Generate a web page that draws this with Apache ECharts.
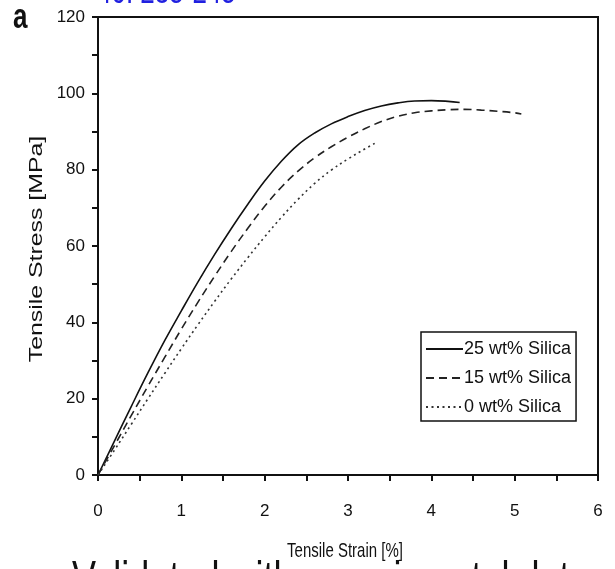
<!DOCTYPE html>
<html>
<head>
<meta charset="utf-8">
<script src="https://cdn.jsdelivr.net/npm/echarts@6/dist/echarts.min.js"></script>
<style>html,body{margin:0;padding:0;background:#fff;}#c{width:615px;height:569px;}</style>
</head>
<body>
<div id="c"></div>
<script>
const xTicks = [0, 1, 2, 3, 4, 5, 6];
const yTicks = [0, 20, 40, 60, 80, 100, 120];

const strain25 = [0, 0.2, 0.4, 0.6, 0.8, 1.0, 1.2, 1.4, 1.6, 1.8, 2.0, 2.2, 2.4, 2.6, 2.8, 3.0, 3.2, 3.4, 3.6, 3.8, 4.0, 4.2, 4.34];
const stress25 = [0, 9.0, 18.0, 26.8, 35.2, 43.0, 50.6, 57.8, 64.6, 71.0, 77.0, 82.2, 86.5, 89.6, 92.0, 93.9, 95.5, 96.7, 97.5, 98.0, 98.1, 97.9, 97.6];

const strain15 = [0, 0.2, 0.4, 0.6, 0.8, 1.0, 1.2, 1.4, 1.6, 1.8, 2.0, 2.2, 2.4, 2.6, 2.8, 3.0, 3.2, 3.4, 3.6, 3.8, 4.0, 4.2, 4.4, 4.6, 4.8, 5.0, 5.08];
const stress15 = [0, 7.8, 15.6, 23.3, 30.8, 38.2, 45.3, 52.1, 58.6, 64.7, 70.4, 75.4, 79.6, 83.1, 86.0, 88.5, 90.7, 92.6, 94.0, 94.9, 95.4, 95.7, 95.8, 95.6, 95.3, 94.9, 94.6];

const strain0 = [0, 0.2, 0.4, 0.6, 0.8, 1.0, 1.2, 1.4, 1.6, 1.8, 2.0, 2.2, 2.4, 2.6, 2.8, 3.0, 3.2, 3.32];
const stress0 = [0, 6.6, 13.3, 20.0, 26.6, 33.1, 39.4, 45.5, 51.4, 57.0, 62.4, 67.5, 72.2, 76.4, 79.9, 82.8, 85.4, 86.9];

const names = ['25 wt% Silica', '15 wt% Silica', '0 wt% Silica'];

function pairs(xs, ys) { return xs.map((x, i) => [x, ys[i]]); }

const sans = 'Liberation Sans, Arial, sans-serif';
const SY = 1.38; // vertical stretch of the original figure
const chart = echarts.init(document.getElementById('c'), null, {renderer: 'canvas'});
chart.setOption({
  backgroundColor: '#fff',
  animation: false,
  grid: {left: 98, right: 17, top: 17, bottom: 94, show: true, borderColor: '#111', borderWidth: 2, backgroundColor: 'transparent'},
  legend: {
    left: 421, top: 332, orient: 'vertical',
    data: names,
    itemWidth: 37, itemHeight: 12, itemGap: 11,
    padding: [8, 5, 5, 4],
    borderColor: '#111', borderWidth: 1.5, backgroundColor: '#fff',
    itemStyle: {opacity: 0},
    textStyle: {fontSize: 18, color: '#111', fontFamily: sans, padding: [0, 0, 0, -4]}
  },
  xAxis: {
    type: 'value', min: 0, max: 6, interval: 0.5,
    axisLine: {show: true, lineStyle: {color: '#111', width: 2}},
    axisTick: {show: true, length: 6, lineStyle: {color: '#111', width: 2}},
    axisLabel: {margin: 28, fontSize: 17, color: '#111', fontFamily: sans,
      formatter: v => (xTicks.indexOf(v) >= 0 ? String(v) : '')},
    splitLine: {show: false}
  },
  yAxis: {
    type: 'value', min: 0, max: 120, interval: 10,
    axisLine: {show: true, lineStyle: {color: '#111', width: 2}},
    axisTick: {show: true, length: 6, lineStyle: {color: '#111', width: 2}},
    axisLabel: {margin: 13, fontSize: 17, color: '#111', fontFamily: sans,
      formatter: v => (yTicks.indexOf(v) >= 0 ? String(v) : '')},
    splitLine: {show: false}
  },
  graphic: [
    {type: 'text', x: 13, y: 18.5, scaleY: SY, style: {text: 'a', font: 'bold 26px ' + sans, fill: '#111', verticalAlign: 'middle'}},
    {type: 'text', x: 97, y: -6.5, scaleY: SY, style: {text: '40: 235-245', font: '26px ' + sans, fill: '#2020e0', verticalAlign: 'middle'}},
    {type: 'text', x: 37, y: 249, rotation: Math.PI / 2, scaleX: SY, style: {text: 'Tensile Stress [MPa]', font: '18px ' + sans, fill: '#111', align: 'center', verticalAlign: 'middle'}},
    {type: 'text', x: 345, y: 551, scaleY: SY, style: {text: 'Tensile Strain [%]', font: '15px ' + sans, fill: '#111', align: 'center', verticalAlign: 'middle'}},
    {type: 'text', x: 72, y: 557.5, scaleY: SY, z: -1, style: {text: 'Validated with experimental data', font: '36px ' + sans, fill: '#111', verticalAlign: 'top'}}
  ],
  series: [
    {name: names[0], type: 'line', data: pairs(strain25, stress25), smooth: 0.4, symbol: 'none', lineStyle: {color: '#111', width: 1.6, type: 'solid'}, itemStyle: {color: '#111'}},
    {name: names[1], type: 'line', data: pairs(strain15, stress15), smooth: 0.4, symbol: 'none', lineStyle: {color: '#222', width: 1.6, type: [8, 5]}, itemStyle: {color: '#222'}},
    {name: names[2], type: 'line', data: pairs(strain0, stress0), smooth: 0.4, symbol: 'none', lineStyle: {color: '#333', width: 1.6, type: [2, 3.5]}, itemStyle: {color: '#333'}}
  ]
});
</script>
</body>
</html>
